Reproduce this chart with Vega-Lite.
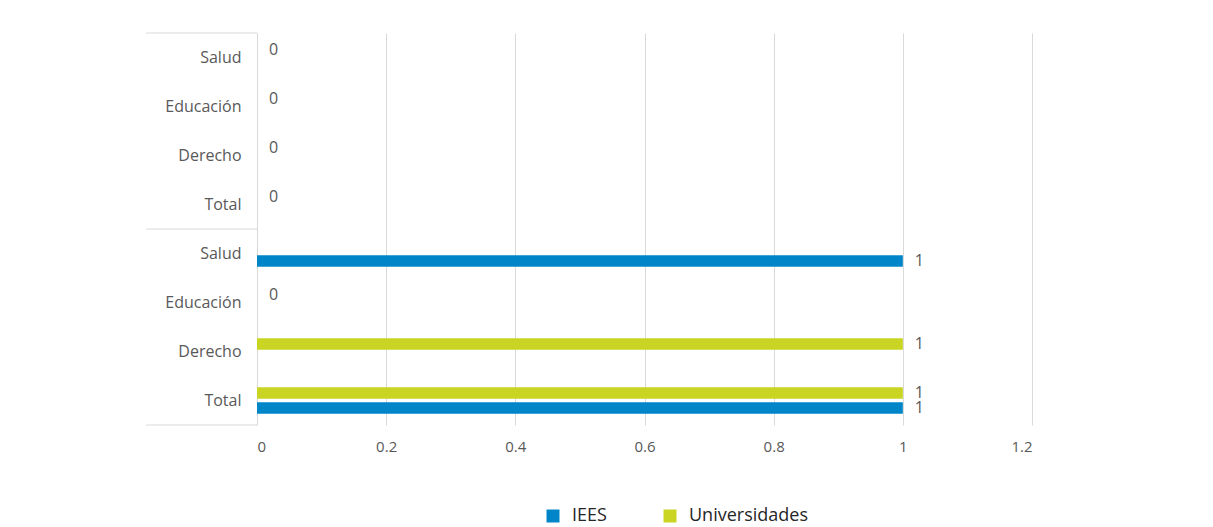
{
  "$schema": "https://vega.github.io/schema/vega-lite/v6.json",
  "autosize": {"type": "pad"},
  "padding": {"left": 145, "top": 32, "right": 5, "bottom": 0},
  "background": "white",
  "config": {"view": {"stroke": null}, "font": "Open Sans"},
  "spacing": 0,
  "bounds": "flush",
  "hconcat": [
    {
      "width": 111,
      "height": 392,
      "layer": [
        {
          "data": {"values": [{"cat": "A|Salud"}, {"cat": "B|Salud"}]},
          "mark": {"type": "rule", "color": "#d9d9d9", "strokeWidth": 1},
          "encoding": {
            "y": {"field": "cat", "type": "nominal", "bandPosition": 0,
              "scale": {"domain": ["A|Salud", "A|Educación", "A|Derecho", "A|Total", "B|Salud", "B|Educación", "B|Derecho", "B|Total"], "paddingInner": 0, "paddingOuter": 0},
              "axis": null}
          }
        },
        {
          "data": {"values": [{"cat": "B|Total"}]},
          "mark": {"type": "rule", "color": "#d9d9d9", "strokeWidth": 1},
          "encoding": {
            "y": {"field": "cat", "type": "nominal", "bandPosition": 1,
              "scale": {"domain": ["A|Salud", "A|Educación", "A|Derecho", "A|Total", "B|Salud", "B|Educación", "B|Derecho", "B|Total"], "paddingInner": 0, "paddingOuter": 0},
              "axis": null}
          }
        }
      ]
    },
    {
      "width": 775,
      "height": 392,
      "data": {"values": [
        {"cat": "A|Salud", "serie": "Universidades", "valor": 0},
        {"cat": "A|Educación", "serie": "Universidades", "valor": 0},
        {"cat": "A|Derecho", "serie": "Universidades", "valor": 0},
        {"cat": "A|Total", "serie": "Universidades", "valor": 0},
        {"cat": "B|Salud", "serie": "IEES", "valor": 1},
        {"cat": "B|Educación", "serie": "Universidades", "valor": 0},
        {"cat": "B|Derecho", "serie": "Universidades", "valor": 1},
        {"cat": "B|Total", "serie": "Universidades", "valor": 1},
        {"cat": "B|Total", "serie": "IEES", "valor": 1}
      ]},
      "encoding": {
        "y": {
          "field": "cat", "type": "nominal",
          "scale": {"domain": ["A|Salud", "A|Educación", "A|Derecho", "A|Total", "B|Salud", "B|Educación", "B|Derecho", "B|Total"], "paddingInner": 0, "paddingOuter": 0},
          "axis": {
            "title": null,
            "labelExpr": "split(datum.label, '|')[1]",
            "ticks": false,
            "labelPadding": 16,
            "labelFontSize": 16,
            "labelColor": "#595959",
            "domainColor": "#d9d9d9",
            "grid": false
          }
        },
        "yOffset": {"field": "serie", "type": "nominal", "scale": {"domain": ["Universidades", "IEES"], "paddingInner": 0.233, "paddingOuter": 0.75}},
        "x": {
          "field": "valor", "type": "quantitative",
          "scale": {"domain": [0, 1.2], "nice": false},
          "axis": {
            "title": null,
            "values": [0, 0.2, 0.4, 0.6, 0.8, 1, 1.2],
            "format": "~g",
            "ticks": false,
            "domain": false,
            "grid": true,
            "gridColor": "#d9d9d9",
            "labelPadding": 14,
            "labelFontSize": 15,
            "labelColor": "#595959"
          }
        }
      },
      "layer": [
        {
          "mark": {"type": "bar"},
          "encoding": {
            "color": {
              "field": "serie", "type": "nominal",
              "scale": {"domain": ["IEES", "Universidades"], "range": ["#0086C8", "#C9D423"]},
              "legend": {
                "title": null,
                "orient": "none",
                "legendX": 398,
                "legendY": 474,
                "direction": "horizontal",
                "symbolType": "square",
                "symbolSize": 169,
                "symbolStrokeWidth": 0,
                "labelFontSize": 18,
                "labelColor": "#262626",
                "labelOffset": 10,
                "columnPadding": 54
              }
            }
          }
        },
        {
          "mark": {"type": "text", "align": "left", "baseline": "middle", "dx": 12, "fontSize": 16, "color": "#595959"},
          "encoding": {"text": {"field": "valor", "type": "quantitative", "format": "~g"}}
        }
      ]
    }
  ]
}
